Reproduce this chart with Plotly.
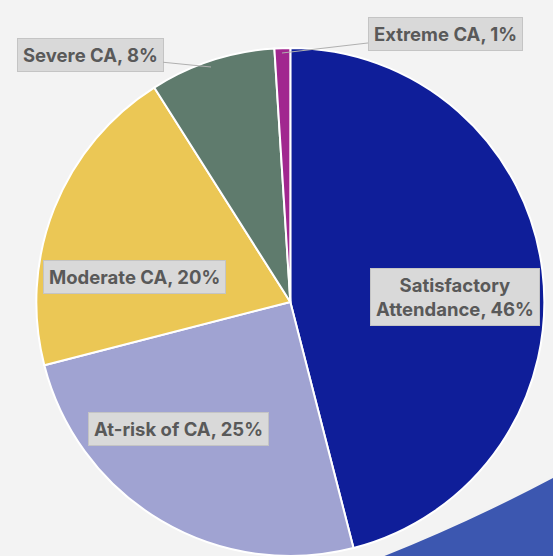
import plotly.graph_objects as go

# Chronic absence categories and their shares (%)
categories = ["Satisfactory Attendance", "At-risk of CA", "Moderate CA", "Severe CA", "Extreme CA"]
shares = [46, 25, 20, 8, 1]
label_text = ["Satisfactory<br>Attendance, 46%", "At-risk of CA, 25%", "Moderate CA, 20%",
              "Severe CA, 8%", "Extreme CA, 1%"]
colors = ["#0f1e99", "#a0a3d2", "#ebc755", "#5f7b6d", "#a1278f"]

W, H = 553, 556
TOP = 48


def px_x(x):
    return x / W


def px_y(y):
    return (H - y) / (H - TOP)


fig = go.Figure()
fig.add_trace(go.Pie(
    labels=categories,
    values=shares,
    sort=False,
    direction="clockwise",
    rotation=0,
    domain=dict(x=[0.05, 1], y=[0, 1]),
    marker=dict(colors=colors, line=dict(color="white", width=2)),
    textinfo="none",
    hoverinfo="label+percent",
    showlegend=False,
))

box = dict(
    bgcolor="#d9d9d9",
    bordercolor="#c4c4c4",
    borderwidth=1,
    borderpad=5,
    font=dict(family="Inter, Open Sans, sans-serif", size=18.5, color="#595959", weight="bold"),
    xref="paper",
    yref="paper",
    xanchor="center",
    yanchor="middle",
)

annotations = [
    dict(text=label_text[0], x=px_x(455), y=px_y(297), showarrow=False, **box),
    dict(text=label_text[1], x=px_x(178), y=px_y(429), showarrow=False, **box),
    dict(text=label_text[2], x=px_x(134), y=px_y(277), showarrow=False, **box),
    dict(text=label_text[3], x=px_x(211), y=px_y(67), ax=-121, ay=-12,
         showarrow=True, arrowhead=0, arrowwidth=1, arrowcolor="#b0b0b0", **box),
    dict(text=label_text[4], x=px_x(282), y=px_y(53), ax=163, ay=-19,
         showarrow=True, arrowhead=0, arrowwidth=1, arrowcolor="#b0b0b0", **box),
]

# blue decorative band in the bottom-right corner
band = dict(
    type="path",
    xref="paper",
    yref="paper",
    path=f"M {px_x(382)},{px_y(557)} Q {px_x(470)},{px_y(522)} {px_x(553)},{px_y(478)} "
         f"L 1.01,{px_y(557)} Z",
    fillcolor="#3c57b0",
    line=dict(width=0),
    layer="below",
)

fig.update_layout(
    width=W,
    height=H,
    margin=dict(l=0, r=0, t=TOP, b=0),
    paper_bgcolor="#f3f3f3",
    plot_bgcolor="#f3f3f3",
    annotations=annotations,
    shapes=[band],
)

fig.write_html(
    "out.html",
    config={"displayModeBar": False},
    post_script="document.body.style.margin='0';document.body.style.overflow='hidden';",
)
